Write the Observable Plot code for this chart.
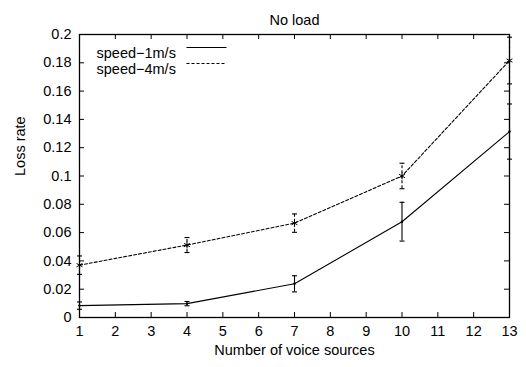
<!DOCTYPE html>
<html><head><meta charset="utf-8">
<script src="https://cdn.jsdelivr.net/npm/d3@7"></script>
<script src="https://cdn.jsdelivr.net/npm/@observablehq/plot@0.6"></script>
<style>body{margin:0;background:#fff} svg{display:block}</style>
</head><body><div id="chart"></div>
<script>
const voiceSources = [1, 4, 7, 10, 13];
const speed1Loss = [0.0084, 0.0098, 0.0238, 0.0677, 0.1314];
const speed1Err  = [0.0026, 0.0015, 0.0057, 0.0137, 0.0195];
const speed4Loss = [0.0370, 0.0512, 0.0667, 0.1000, 0.1816];
const speed4Err  = [0.0065, 0.0053, 0.0065, 0.0090, 0.0165];
const seriesNames = ["speed\u22121m/s", "speed\u22124m/s"];
const xTicks = [1, 2, 3, 4, 5, 6, 7, 8, 9, 10, 11, 12, 13];
const yTicks = [0, 0.02, 0.04, 0.06, 0.08, 0.1, 0.12, 0.14, 0.16, 0.18, 0.2];
const yTickLabels = ["0", "0.02", "0.04", "0.06", "0.08", "0.1", "0.12", "0.14", "0.16", "0.18", "0.2"];
const titleText = "No load";
const xLabel = "Number of voice sources";
const yLabel = "Loss rate";

const s1 = voiceSources.map((x, i) => ({x, y: speed1Loss[i], e: speed1Err[i]}));
const s4 = voiceSources.map((x, i) => ({x, y: speed4Loss[i], e: speed4Err[i]}));

const W = 526, H = 367, mL = 79, mR = 17, mT = 34, mB = 50;
const fw = W - mL - mR, fh = H - mT - mB, tl = 5;
const dash = "3,2";
const font = "'Liberation Sans', Arial, sans-serif";
const fs = 14.5;

const capSym = {draw(ctx) { ctx.moveTo(-2.5, 0); ctx.lineTo(2.5, 0); }};
const sampleSym = {draw(ctx) { ctx.moveTo(-20, 0); ctx.lineTo(20, 0); }};

function series(d, dashed, marker) {
  const da = dashed ? dash : null;
  return [
    Plot.line(d, {x: "x", y: "y", stroke: "#000", strokeWidth: 1.1, strokeDasharray: da}),
    Plot.ruleX(d, {x: "x", y1: r => r.y - r.e, y2: r => r.y + r.e, stroke: "#000", strokeWidth: 1.1, strokeDasharray: da}),
    Plot.dot(d, {x: "x", y: r => r.y - r.e, symbol: capSym, stroke: "#000", strokeWidth: 1.1}),
    Plot.dot(d, {x: "x", y: r => r.y + r.e, symbol: capSym, stroke: "#000", strokeWidth: 1.1}),
    marker
  ];
}

const chart = Plot.plot({
  width: W, height: H,
  marginLeft: mL, marginRight: mR, marginTop: mT, marginBottom: mB,
  style: {fontFamily: font, fontSize: fs + "px", background: "#fff", color: "#000"},
  x: {domain: [1, 13]},
  y: {domain: [0, 0.2]},
  marks: [
    Plot.axisX({ticks: xTicks, tickSize: 0, tickPadding: 8, label: null, tickFormat: d => String(d)}),
    Plot.axisY({ticks: yTicks, tickSize: 0, tickPadding: 8, label: null, tickFormat: d => yTickLabels[yTicks.indexOf(d)]}),
    // inward ticks, mirrored
    Plot.tickX(xTicks, {x: d => d, insetTop: fh - tl, stroke: "#000"}),
    Plot.tickX(xTicks, {x: d => d, insetBottom: fh - tl, stroke: "#000"}),
    Plot.tickY(yTicks, {y: d => d, insetRight: fw - tl, stroke: "#000"}),
    Plot.tickY(yTicks, {y: d => d, insetLeft: fw - tl, stroke: "#000"}),
    ...series(s1, false, Plot.dot(s1, {x: "x", y: "y", r: 1.2, fill: "#000"})),
    ...series(s4, true, Plot.dot(s4, {x: "x", y: "y", symbol: "asterisk", r: 3.2, stroke: "#000", strokeWidth: 1})),
    Plot.frame({stroke: "#000", strokeWidth: 1.3}),
    // legend
    Plot.text([seriesNames[0]], {text: d => d, frameAnchor: "top-left", dx: 17, dy: 13, textAnchor: "start", fontSize: fs}),
    Plot.text([seriesNames[1]], {text: d => d, frameAnchor: "top-left", dx: 17, dy: 29, textAnchor: "start", fontSize: fs}),
    Plot.dot([0], {frameAnchor: "top-left", dx: 127, dy: 13, symbol: sampleSym, stroke: "#000", strokeWidth: 1.1}),
    Plot.dot([0], {frameAnchor: "top-left", dx: 127, dy: 29, symbol: sampleSym, stroke: "#000", strokeWidth: 1.1, strokeDasharray: dash}),
    // title and axis labels
    Plot.text([titleText], {text: d => d, frameAnchor: "top", dy: -20, fontSize: fs}),
    Plot.text([xLabel], {text: d => d, frameAnchor: "bottom", dy: 37, fontSize: fs}),
    Plot.text([yLabel], {text: d => d, frameAnchor: "left", dx: -59, rotate: -90, fontSize: fs})
  ]
});
document.getElementById("chart").appendChild(chart);
</script>
</body></html>
